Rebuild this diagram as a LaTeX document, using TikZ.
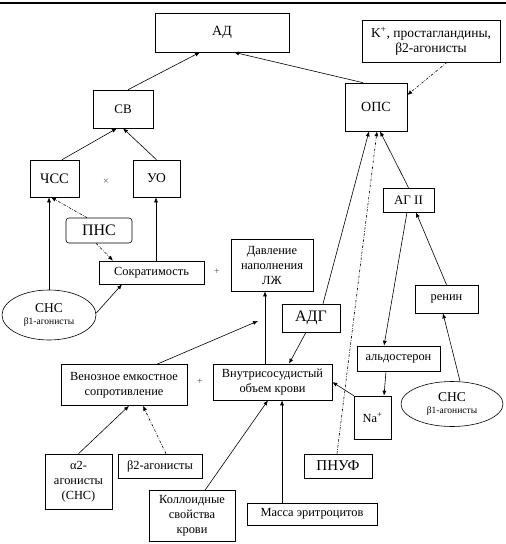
\documentclass[tikz,border=0pt]{standalone}
\usepackage{fontspec}
\setmainfont{Liberation Serif}
\usetikzlibrary{arrows.meta,shapes.geometric}
\begin{document}
\begin{tikzpicture}[x=1pt,y=-1pt,
 box/.style={draw,line width=0.6pt,inner sep=0pt,align=center,font=\fontsize{12.4}{15}\selectfont},
 fs/.style={font=\fontsize{#1}{15}\selectfont},
 ell/.style={draw,ellipse,line width=0.6pt,inner sep=0pt,align=center,font=\fontsize{13.5}{15}\selectfont},
 arr/.style={-{Latex[length=5pt,width=4pt]},line width=0.6pt},
 darr/.style={arr,dash pattern=on 2.5pt off 1.5pt on 0.6pt off 1.5pt},
 sign/.style={inner sep=0pt,text=black!70,font=\fontsize{10}{10}\selectfont}]
\useasboundingbox (0,0) rectangle (506,544);
\draw[line width=1.5pt] (0,3) -- (506,3);
% nodes
\node[box,fs=14,minimum width=134,minimum height=39] (ad) at (222,32.5) {АД};
\node[box,fs=13.5,minimum width=138,minimum height=42] (k) at (431,41) {K\textsuperscript{+}, простагландины,\\β2-агонисты};
\node[box,fs=13,minimum width=60,minimum height=38] (sv) at (123,109) {СВ};
\node[box,fs=14,minimum width=62,minimum height=48] (ops) at (376,107) {ОПС};
\node[box,fs=14.5,minimum width=49,minimum height=37] (chss) at (54.5,178.5) {ЧСС};
\node[box,fs=13.5,minimum width=47,minimum height=37] (uo) at (156.5,178.5) {УО};
\node[sign] (mul) at (106,182) {×};
\node[box,fs=16,rounded corners=3pt,minimum width=66,minimum height=25] (pns) at (99,230.5) {ПНС};
\node[box,minimum width=105,minimum height=23] (sok) at (151.5,272.5) {Сократимость};
\node[sign] (plus1) at (217,272) {+};
\node[ell,minimum width=94,minimum height=50] (snsl) at (49,315) {СНС\\[-3pt]{\fontsize{9.5}{10}\selectfont β1-агонисты}};
\node[box,minimum width=82,minimum height=52] (dav) at (272,265) {Давление\\наполнения\\ЛЖ};
\node[box,fs=13,minimum width=51,minimum height=24] (ag) at (408.5,200) {АГ II};
\node[box,minimum width=63,minimum height=28] (renin) at (446.5,299) {ренин};
\node[box,fs=16,minimum width=58,minimum height=28] (adg) at (311,318) {АДГ};
\node[box,minimum width=83,minimum height=25] (ald) at (398.5,358.5) {альдостерон};
\node[box,minimum width=126,minimum height=41] (ven) at (124,385) {Венозное емкостное\\сопротивление};
\node[sign] (plus2) at (200,382) {+};
\node[box,minimum width=119,minimum height=36] (vnu) at (272.5,382) {Внутрисосудистый\\объем крови};
\node[box,minimum width=37,minimum height=43] (na) at (372.5,417.5) {Na\textsuperscript{+}};
\node[ell,minimum width=102,minimum height=45] (snsr) at (452,404) {СНС\\[-3pt]{\fontsize{9.5}{10}\selectfont β1-агонисты}};
\node[box,fs=15,minimum width=68,minimum height=24] (pnuf) at (338,466) {ПНУФ};
\node[box,minimum width=67,minimum height=55] (a2) at (78.5,481.5) {α2-\\агонисты\\(СНС)};
\node[box,minimum width=84,minimum height=24] (b2) at (160,466) {β2-агонисты};
\node[box,minimum width=86,minimum height=51] (kol) at (192,516) {Коллоидные\\свойства\\крови};
\node[box,minimum width=130,minimum height=22] (mas) at (312,514) {Масса эритроцитов};
\coordinate (vend) at (258,321);
% connectors
\draw[arr] ([xshift=5pt]sv.north) -- ([xshift=-22pt]ad.south);
\draw[arr] ([xshift=-13pt]ops.north) -- ([xshift=12pt]ad.south);
\draw[darr] ([xshift=16pt]k.south) -- ([yshift=12pt]ops.east);
\draw[arr] ([xshift=7.5pt]chss.north) -- ([xshift=-6pt]sv.south);
\draw[arr] (uo.north) -- (sv.south);
\draw[arr] ([xshift=12pt]adg.north) -- ([xshift=-7pt]ops.south);
\draw[darr] ([xshift=-1pt]pnuf.north) -- ([xshift=1pt]ops.south);
\draw[arr] (ag.north) -- ([xshift=4pt]ops.south);
\draw[arr] (snsl.north) -- ([xshift=-5.5pt]chss.south);
\draw[darr] ([xshift=-12pt]pns.north) -- ([xshift=-3.5pt]chss.south);
\draw[darr] ([xshift=-3pt]pns.south) -- ([xshift=-38.5pt]sok.north);
\draw[arr] ([xshift=4.5pt]sok.north) -- ([xshift=-0.5pt]uo.south);
\draw[arr] ([yshift=2pt]snsl.east) -- ([xshift=-29.5pt]sok.south);
\draw[arr] ([xshift=33pt]ven.north) -- (vend);
\draw[arr] ([xshift=-7.5pt]vnu.north) -- ([xshift=-7pt]dav.south);
\draw[arr] ([xshift=-5pt]adg.south) -- ([xshift=16.5pt]vnu.north);
\draw[arr] ([xshift=-1.5pt]ag.south) -- ([xshift=-14.5pt]ald.north);
\draw[arr] (renin.north) -- ([xshift=7.5pt]ag.south);
\draw[arr] ([xshift=8pt]snsr.north) -- ([xshift=-3.5pt]renin.south);
\draw[arr] ([xshift=-12.5pt]ald.south) -- ([xshift=11.5pt]na.north);
\draw[arr] (na.north west) -- (vnu.east);
\draw[arr] (a2.north) -- ([xshift=5pt]ven.south);
\draw[darr] ([xshift=6pt]b2.north) -- ([xshift=19pt]ven.south);
\draw[arr] ([xshift=13pt]kol.north) -- ([xshift=-4.5pt]vnu.south);
\draw[arr] ([xshift=-30pt]mas.north) -- ([xshift=9.5pt]vnu.south);
\end{tikzpicture}
\end{document}
